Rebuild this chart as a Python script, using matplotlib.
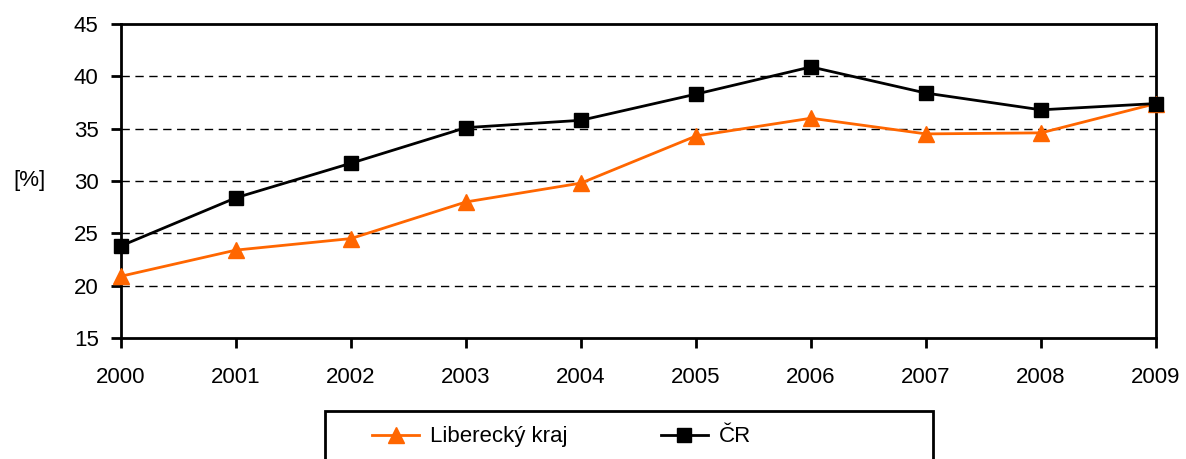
import matplotlib.pyplot as plt
from matplotlib.patches import Rectangle

plt.rcParams["font.family"] = ["Liberation Sans", "DejaVu Sans"]

# hodnoty
years = [2000, 2001, 2002, 2003, 2004, 2005, 2006, 2007, 2008, 2009]
liberecky = [20.9, 23.4, 24.5, 28.0, 29.8, 34.3, 36.0, 34.5, 34.6, 37.4]
cr = [23.8, 28.4, 31.7, 35.1, 35.8, 38.3, 40.9, 38.4, 36.8, 37.4]

fig = plt.figure(figsize=(11.86, 4.59), dpi=100)
ax = fig.add_axes([0.102, 0.2636, 0.8727, 0.6841])

ax.plot(years, liberecky, color="#FF6600", lw=2, marker="^", markersize=12,
        label="Liberecký kraj", clip_on=False, zorder=3)
ax.plot(years, cr, color="black", lw=2, marker="s", markersize=10,
        label="ČR", clip_on=False, zorder=4)

ax.set_xlim(2000, 2009)
ax.set_ylim(15, 45)
ax.set_xticks(years)
ax.set_yticks(range(15, 50, 5))

# mřížka jen pro vnitřní hodnoty
for v in range(20, 45, 5):
    ax.axhline(v, color="black", lw=1, ls=(0, (6, 4)), zorder=1)

for s in ax.spines.values():
    s.set_linewidth(2)
ax.tick_params(axis="both", labelsize=16, width=2, length=7, direction="out")
ax.tick_params(axis="x", pad=14)
ax.tick_params(axis="y", pad=9)

ax.set_ylabel("[%]", rotation=0, fontsize=16, va="center", ha="center")
ax.yaxis.set_label_coords(-0.088, 0.503)

# rámeček legendy (přesahuje spodní okraj)
fig.patches.append(Rectangle((0.274, -0.1), 0.5126, 0.2046, transform=fig.transFigure,
                             fill=False, edgecolor="black", lw=2))
fig.legend(loc="center", bbox_to_anchor=(0.4735, 0.048), ncol=2, frameon=False,
           fontsize=16, handlelength=2.1, columnspacing=4.2, handletextpad=0.5)

fig.savefig("out.png", dpi=100)
